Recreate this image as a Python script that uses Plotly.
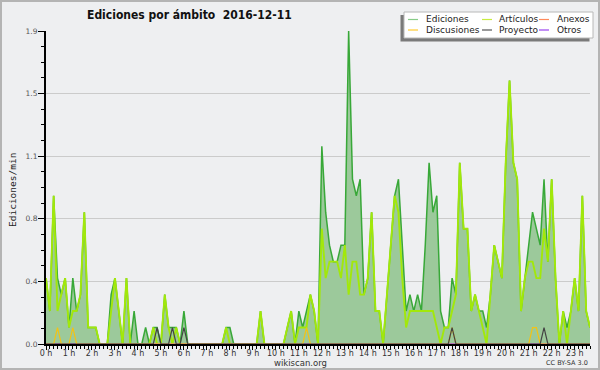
import plotly.graph_objects as go

# 10-minute slots, 0:00 .. 23:40 (edits per minute)
ediciones = [0.4, 0.2, 0.9, 0.4, 0.3, 0.4, 0.1, 0.4, 0.2, 0.3,
             0.8, 0.1, 0.1, 0.1, 0, 0, 0, 0.3, 0.4, 0.2,
             0, 0.4, 0, 0.2, 0, 0, 0.1, 0, 0.1, 0.1,
             0, 0.3, 0.1, 0.1, 0.1, 0, 0.2, 0, 0, 0,
             0, 0, 0, 0, 0, 0, 0, 0.1, 0.1, 0,
             0, 0, 0, 0, 0, 0, 0.2, 0, 0, 0,
             0, 0, 0, 0.1, 0.2, 0, 0.2, 0.1, 0.2, 0.3,
             0.2, 0, 1.2, 0.8, 0.6, 0.5, 0.5, 0.6, 0.6, 1.9,
             1.0, 0.9, 1.0, 0.3, 0.4, 0.8, 0.2, 0.2, 0, 0.3,
             0.6, 0.9, 1.0, 0.6, 0.2, 0.3, 0.2, 0.3, 0.2, 0.6,
             1.1, 0.8, 0.9, 0.2, 0.1, 0.1, 0.4, 0.3, 1.1, 0.7,
             0.7, 0.2, 0.3, 0.2, 0.2, 0.1, 0.3, 0.6, 0.5, 0.4,
             1.1, 1.6, 1.1, 1.0, 0.2, 0.4, 0.6, 0.8, 0.7, 0.6,
             1.0, 0.5, 1.0, 0.4, 0, 0.2, 0.1, 0.2, 0.4, 0.2,
             0.9, 0.2, 0.1]

articulos = [0.4, 0.2, 0.9, 0.2, 0.3, 0.4, 0.1, 0.2, 0.2, 0.3,
             0.8, 0.1, 0.1, 0.1, 0, 0, 0, 0.2, 0.4, 0.2,
             0, 0.4, 0, 0, 0, 0, 0, 0, 0.1, 0,
             0, 0.3, 0.1, 0, 0.1, 0, 0, 0, 0, 0,
             0, 0, 0, 0, 0, 0, 0, 0.1, 0, 0,
             0, 0, 0, 0, 0, 0, 0.2, 0, 0, 0,
             0, 0, 0, 0.1, 0.2, 0, 0.1, 0.1, 0.1, 0.3,
             0.2, 0, 0.7, 0.4, 0.5, 0.5, 0.5, 0.4, 0.6, 0.3,
             0.5, 0.5, 0.3, 0.3, 0.4, 0.8, 0.2, 0.2, 0, 0.3,
             0.6, 0.9, 0.8, 0.4, 0.1, 0.2, 0.2, 0.2, 0.2, 0.2,
             0.2, 0.2, 0.1, 0, 0.1, 0.1, 0.2, 0.3, 1.1, 0.7,
             0.7, 0.2, 0.3, 0.2, 0.1, 0, 0.3, 0.6, 0.5, 0.4,
             1.1, 1.6, 1.1, 1.0, 0.2, 0.4, 0.5, 0.5, 0.4, 0.4,
             0.7, 0.5, 1.0, 0.4, 0, 0.2, 0, 0.2, 0.4, 0.2,
             0.9, 0.2, 0.1]

n = len(ediciones)
discusiones = [0.0] * n
for k in (3, 7, 68, 106, 127, 128):
    discusiones[k] = 0.1
proyecto = [0.0] * n
for k in (29, 33, 36, 106, 130):
    proyecto[k] = 0.1
anexos = [0.0] * n
otros = [0.0] * n

hours = [k / 6 for k in range(n)]
hour_ticks = list(range(24))
hour_labels = [f"{h} h" for h in hour_ticks]
y_ticks = [0, 0.38, 0.76, 1.14, 1.52, 1.9]
y_labels = ["0.0", "0.4", "0.8", "1.1", "1.5", "1.9"]

legend_items = [
    ("Ediciones", "#88cc88", 0), ("Artículos", "#c8ec40", 1), ("Anexos", "#ff8a5c", 2),
    ("Discusiones", "#ffcc33", 3), ("Proyecto", "#555555", 4), ("Otros", "#9a44ee", 5),
]

W, H = 600, 370
L, R, T, B = 46, 590, 31, 344


def px(x):
    return (x - L) / (R - L)


def py(y):
    return (B - y) / (B - T)


fig = go.Figure()
fig.add_trace(go.Scatter(x=hours, y=ediciones, mode="lines", fill="tozeroy",
                         fillcolor="#9cc99b", line=dict(color="#38a838", width=1.5),
                         showlegend=False, hoverinfo="skip"))
fig.add_trace(go.Scatter(x=hours, y=articulos, mode="lines",
                         line=dict(color="#a2e80a", width=1.9), showlegend=False))
fig.add_trace(go.Scatter(x=hours, y=anexos, mode="lines",
                         line=dict(color="#ff8a5c", width=1.2), showlegend=False))
fig.add_trace(go.Scatter(x=hours, y=otros, mode="lines",
                         line=dict(color="#9a44ee", width=1.2), showlegend=False))
fig.add_trace(go.Scatter(x=hours, y=discusiones, mode="lines",
                         line=dict(color="#f2c316", width=1.2), showlegend=False))
fig.add_trace(go.Scatter(x=hours, y=proyecto, mode="lines",
                         line=dict(color="#444444", width=1.2), showlegend=False))

shapes = []
annotations = []
# outer border
shapes.append(dict(type="rect", xref="paper", yref="paper",
                   x0=px(1), x1=px(599), y0=py(369), y1=py(1),
                   line=dict(color="#b4b4b4", width=2), fillcolor="rgba(0,0,0,0)", layer="below"))
# legend shadow & box
shapes.append(dict(type="rect", xref="paper", yref="paper",
                   x0=px(400.5), x1=px(589.5), y0=py(41.5), y1=py(15),
                   line=dict(width=0), fillcolor="#7a7a7a", layer="above"))
shapes.append(dict(type="rect", xref="paper", yref="paper",
                   x0=px(404), x1=px(593), y0=py(38), y1=py(12),
                   line=dict(color="#b8b8b8", width=1), fillcolor="white", layer="above"))
cols = [(408, 424), (482, 497), (539, 555)]
rows = [19.5, 30]
for name, color, idx in legend_items:
    r, c = divmod(idx, 3)
    sx, tx = cols[c]
    yy = rows[r]
    shapes.append(dict(type="line", xref="paper", yref="paper",
                       x0=px(sx), x1=px(sx + 10), y0=py(yy), y1=py(yy),
                       line=dict(color=color, width=1.2), layer="above"))
    annotations.append(dict(text=name, xref="paper", yref="paper", x=px(tx), y=py(yy),
                            xanchor="left", yanchor="middle", showarrow=False,
                            font=dict(family="DejaVu Sans", size=9, color="#222222")))

annotations.append(dict(text="Ediciones por ámbito\u00a0\u00a02016-12-11", xref="paper", yref="paper",
                        x=px(85), y=py(15), xanchor="left", yanchor="middle", showarrow=False,
                        font=dict(family="DejaVu Sans Condensed, DejaVu Sans", size=12,
                                  color="#111111", weight="bold")))
annotations.append(dict(text="Ediciones/min", xref="paper", yref="paper",
                        x=px(12), y=py(190), xanchor="center", yanchor="middle", showarrow=False,
                        textangle=-90,
                        font=dict(family="DejaVu Sans Mono", size=9.5, color="#222222")))
annotations.append(dict(text="wikiscan.org", xref="paper", yref="paper",
                        x=px(300), y=py(362.5), xanchor="center", yanchor="middle", showarrow=False,
                        font=dict(family="DejaVu Sans", size=8.5, color="#333333")))
annotations.append(dict(text="CC BY-SA 3.0", xref="paper", yref="paper",
                        x=px(590), y=py(362.5), xanchor="right", yanchor="middle", showarrow=False,
                        font=dict(family="DejaVu Sans", size=6.5, color="#333333")))

fig.update_layout(
    width=W, height=H,
    margin=dict(l=L, r=W - R, t=T, b=H - B),
    paper_bgcolor="#eeeff1", plot_bgcolor="#eeeff1",
    showlegend=False,
    shapes=shapes, annotations=annotations,
    xaxis=dict(range=[0, hours[-1]], tickmode="array", tickvals=hour_ticks, ticktext=hour_labels,
               showgrid=False, zeroline=False, showline=True, linecolor="black", linewidth=2,
               ticks="outside", ticklen=4, tickwidth=1, tickcolor="black",
               ticklabelstandoff=-4,
               tickfont=dict(family="DejaVu Sans", size=8, color="#333333"),
               minor=dict(tickmode="linear", tick0=0, dtick=1 / 6, ticks="outside", ticklen=3,
                          tickcolor="black", showgrid=False),
               fixedrange=True),
    yaxis=dict(range=[0, 1.9], tickmode="array", tickvals=y_ticks, ticktext=y_labels,
               showgrid=True, gridcolor="#cbcbcb", gridwidth=1, zeroline=False,
               showline=True, linecolor="black", linewidth=2,
               ticks="outside", ticklen=6, tickwidth=1, tickcolor="black",
               ticklabelstandoff=-1,
               tickfont=dict(family="DejaVu Sans", size=7.5, color="#555555"),
               minor=dict(tickmode="linear", tick0=0, dtick=0.095, ticks="outside", ticklen=3,
                          tickcolor="black", showgrid=False),
               fixedrange=True),
)

fig.write_html("out.html", config={"displayModeBar": False},
               post_script="document.body.style.margin='0';document.body.style.overflow='hidden';")
